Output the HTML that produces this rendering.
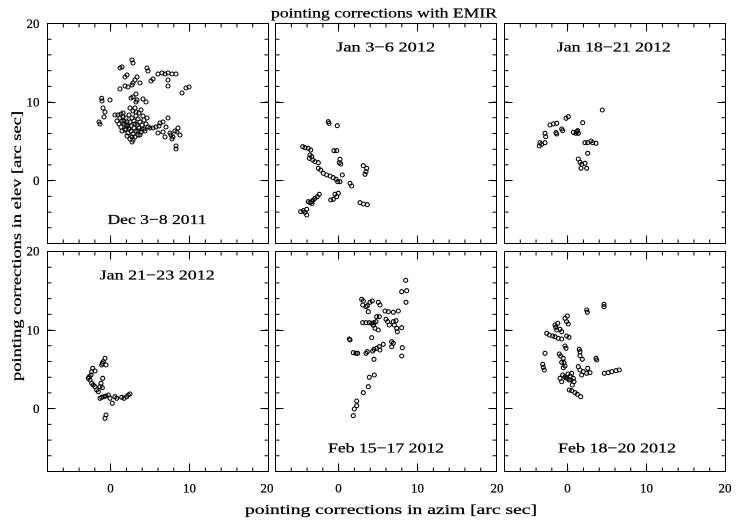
<!DOCTYPE html>
<html><head><meta charset="utf-8"><style>
html,body{margin:0;padding:0;background:#fff;}
svg{display:block;}
text{font-family:"Liberation Serif",serif;fill:#000;stroke:#000;stroke-width:0.25;}
</style></head><body>
<svg width="739" height="523" viewBox="0 0 739 523" xmlns="http://www.w3.org/2000/svg">
<defs>
<g id="frame" fill="none" stroke="#000" stroke-width="1">
<rect x="0" y="0" width="221" height="220"/>
<line x1="-0.5" y1="2" x2="221.5" y2="2" stroke-width="4" stroke-dasharray="1 14.786"/>
<line x1="-0.5" y1="218" x2="221.5" y2="218" stroke-width="4" stroke-dasharray="1 14.786"/>
<line x1="2" y1="-0.5" x2="2" y2="220.5" stroke-width="4" stroke-dasharray="1 14.714"/>
<line x1="219" y1="-0.5" x2="219" y2="220.5" stroke-width="4" stroke-dasharray="1 14.714"/>
<path d="M63 0V8M142 0V8M63 212V220M142 212V220M0 79H8M0 157H8M213 79H221M213 157H221"/>
</g>
</defs>
<rect width="739" height="523" fill="#fff"/>
<use href="#frame" x="47.5" y="23.5"/>
<use href="#frame" x="275.5" y="23.5"/>
<use href="#frame" x="504.5" y="23.5"/>
<use href="#frame" x="47.5" y="251.5"/>
<use href="#frame" x="275.5" y="251.5"/>
<use href="#frame" x="504.5" y="251.5"/>

<!-- titles -->
<text x="384" y="17.3" font-size="14" text-anchor="middle" textLength="226" lengthAdjust="spacingAndGlyphs">pointing corrections with EMIR</text>
<text x="391" y="514" font-size="14" text-anchor="middle" textLength="292" lengthAdjust="spacingAndGlyphs">pointing corrections in azim [arc sec]</text>
<text transform="translate(21,246) rotate(-90)" x="0" y="0" font-size="14" text-anchor="middle" textLength="270" lengthAdjust="spacingAndGlyphs">pointing corrections in elev [arc sec]</text>

<!-- y tick labels -->
<g font-size="13" text-anchor="end">
<text x="39.5" y="27.8">20</text>
<text x="39.5" y="106.6">10</text>
<text x="39.5" y="185">0</text>
<text x="39.5" y="255.6">20</text>
<text x="39.5" y="334.5">10</text>
<text x="39.5" y="412.8">0</text>
</g>
<!-- x tick labels -->
<g font-size="13" text-anchor="middle">
<text x="110.5" y="492.5">0</text>
<text x="189.5" y="492.5">10</text>
<text x="267" y="492.5">20</text>
<text x="338.5" y="492.5">0</text>
<text x="417.5" y="492.5">10</text>
<text x="497" y="492.5">20</text>
<text x="567.5" y="492.5">0</text>
<text x="646.5" y="492.5">10</text>
<text x="725" y="492.5">20</text>
</g>

<!-- panel labels -->
<g font-size="14" text-anchor="middle">
<text x="157" y="224" textLength="99" lengthAdjust="spacingAndGlyphs">Dec 3−8 2011</text>
<text x="385.7" y="51.7" textLength="99" lengthAdjust="spacingAndGlyphs">Jan 3−6 2012</text>
<text x="613.8" y="51.7" textLength="114" lengthAdjust="spacingAndGlyphs">Jan 18−21 2012</text>
<text x="157.2" y="279.3" textLength="115" lengthAdjust="spacingAndGlyphs">Jan 21−23 2012</text>
<text x="386" y="452.3" textLength="116" lengthAdjust="spacingAndGlyphs">Feb 15−17 2012</text>
<text x="617" y="452.3" textLength="118" lengthAdjust="spacingAndGlyphs">Feb 18−20 2012</text>
</g>

<g fill="none" stroke="#000" stroke-width="1.1">
<!-- panel 1 -->
<circle cx="100" cy="124" r="2"/><circle cx="99" cy="122" r="2"/><circle cx="101.7" cy="98.3" r="2"/><circle cx="102" cy="101" r="2"/>
<circle cx="110" cy="100" r="2"/><circle cx="103" cy="108" r="2"/><circle cx="105" cy="112" r="2"/><circle cx="104" cy="117" r="2"/>
<circle cx="120" cy="68" r="2"/><circle cx="122" cy="67" r="2"/><circle cx="125" cy="77" r="2"/><circle cx="127" cy="75" r="2"/>
<circle cx="120" cy="89" r="2"/><circle cx="125" cy="86" r="2"/><circle cx="128" cy="87" r="2"/><circle cx="132" cy="85" r="2"/>
<circle cx="133" cy="83" r="2"/><circle cx="135" cy="80" r="2"/><circle cx="137" cy="77" r="2"/><circle cx="140" cy="83" r="2"/>
<circle cx="132" cy="60" r="2"/><circle cx="133" cy="63" r="2"/><circle cx="147" cy="68" r="2"/><circle cx="148" cy="71" r="2"/>
<circle cx="151" cy="81" r="2"/><circle cx="153" cy="79" r="2"/><circle cx="158" cy="74" r="2"/><circle cx="162" cy="73" r="2"/>
<circle cx="165" cy="74" r="2"/><circle cx="168" cy="73" r="2"/><circle cx="172" cy="74" r="2"/><circle cx="176" cy="74" r="2"/>
<circle cx="168" cy="80" r="2"/><circle cx="168" cy="86" r="2"/><circle cx="182" cy="93" r="2"/><circle cx="186" cy="88" r="2"/>
<circle cx="189" cy="87" r="2"/><circle cx="131" cy="98" r="2"/><circle cx="133" cy="97" r="2"/><circle cx="136" cy="94" r="2"/>
<circle cx="136" cy="102" r="2"/><circle cx="137" cy="100" r="2"/><circle cx="143" cy="99" r="2"/><circle cx="146" cy="102" r="2"/>
<circle cx="130" cy="108" r="2"/><circle cx="135" cy="108" r="2"/><circle cx="133" cy="111" r="2"/>
<circle cx="115" cy="115" r="2"/><circle cx="118" cy="115" r="2"/><circle cx="121" cy="114" r="2"/><circle cx="123" cy="113" r="2"/>
<circle cx="120" cy="118" r="2"/><circle cx="122" cy="121" r="2"/><circle cx="119" cy="124" r="2"/><circle cx="121" cy="127" r="2"/>
<circle cx="124" cy="124" r="2"/><circle cx="126" cy="129" r="2"/><circle cx="128" cy="126" r="2"/><circle cx="130" cy="122" r="2"/>
<circle cx="132" cy="118" r="2"/><circle cx="134" cy="121" r="2"/><circle cx="136" cy="116" r="2"/><circle cx="138" cy="119" r="2"/>
<circle cx="140" cy="122" r="2"/><circle cx="137" cy="125" r="2"/><circle cx="134" cy="128" r="2"/><circle cx="131" cy="131" r="2"/>
<circle cx="128" cy="133" r="2"/><circle cx="125" cy="130" r="2"/><circle cx="133" cy="134" r="2"/><circle cx="136" cy="131" r="2"/>
<circle cx="139" cy="128" r="2"/><circle cx="142" cy="125" r="2"/><circle cx="144" cy="120" r="2"/><circle cx="146" cy="124" r="2"/>
<circle cx="148" cy="127" r="2"/><circle cx="144" cy="129" r="2"/><circle cx="141" cy="132" r="2"/><circle cx="138" cy="135" r="2"/>
<circle cx="135" cy="137" r="2"/><circle cx="132" cy="137" r="2"/><circle cx="133" cy="140" r="2"/><circle cx="140" cy="135" r="2"/>
<circle cx="145" cy="131" r="2"/><circle cx="150" cy="128" r="2"/><circle cx="153" cy="128" r="2"/><circle cx="156" cy="127" r="2"/>
<circle cx="159" cy="126" r="2"/><circle cx="147" cy="118" r="2"/><circle cx="143" cy="116" r="2"/><circle cx="139" cy="113" r="2"/>
<circle cx="141" cy="110" r="2"/><circle cx="136" cy="112" r="2"/><circle cx="129" cy="115" r="2"/><circle cx="126" cy="118" r="2"/>
<circle cx="124" cy="121" r="2"/><circle cx="117" cy="121" r="2"/><circle cx="122" cy="131" r="2"/><circle cx="127" cy="136" r="2"/>
<circle cx="130" cy="139" r="2"/><circle cx="132" cy="142" r="2"/>
<circle cx="127" cy="122" r="2"/><circle cx="131" cy="126" r="2"/><circle cx="135" cy="124" r="2"/><circle cx="129" cy="129" r="2"/>
<circle cx="123" cy="117" r="2"/><circle cx="138" cy="131" r="2"/><circle cx="142" cy="129" r="2"/><circle cx="126" cy="125" r="2"/>
<circle cx="160" cy="123" r="2"/><circle cx="163" cy="122" r="2"/><circle cx="168" cy="118" r="2"/><circle cx="166" cy="127" r="2"/>
<circle cx="158" cy="133" r="2"/><circle cx="163" cy="132" r="2"/><circle cx="165" cy="137" r="2"/><circle cx="170" cy="133" r="2"/>
<circle cx="173" cy="137" r="2"/><circle cx="177" cy="132" r="2"/><circle cx="178" cy="128" r="2"/><circle cx="180" cy="135" r="2"/>
<circle cx="175" cy="131" r="2"/><circle cx="172" cy="139" r="2"/><circle cx="176" cy="146" r="2"/><circle cx="176" cy="149" r="2"/>
<circle cx="171" cy="135" r="2"/>

<!-- panel 2 -->
<circle cx="328.3" cy="121.7" r="2"/><circle cx="329" cy="123.5" r="2"/><circle cx="337.3" cy="125.7" r="2"/>
<circle cx="302.7" cy="146.7" r="2"/><circle cx="305" cy="147.7" r="2"/><circle cx="308.3" cy="148.3" r="2"/><circle cx="310.7" cy="150" r="2"/>
<circle cx="310" cy="155" r="2"/><circle cx="311.7" cy="156.7" r="2"/><circle cx="309.3" cy="158.3" r="2"/><circle cx="312.7" cy="160" r="2"/>
<circle cx="315" cy="161.7" r="2"/><circle cx="318.3" cy="162.7" r="2"/><circle cx="334" cy="150.7" r="2"/><circle cx="336.7" cy="150.7" r="2"/>
<circle cx="340" cy="159.3" r="2"/><circle cx="339.3" cy="162.7" r="2"/><circle cx="340.7" cy="164" r="2"/>
<circle cx="363.3" cy="165.7" r="2"/><circle cx="366.7" cy="168.3" r="2"/><circle cx="366" cy="171.7" r="2"/><circle cx="365" cy="174.3" r="2"/>
<circle cx="318.3" cy="168.3" r="2"/><circle cx="320.7" cy="170" r="2"/><circle cx="323.3" cy="173.3" r="2"/><circle cx="326.7" cy="175" r="2"/>
<circle cx="330" cy="176" r="2"/><circle cx="333.3" cy="177.7" r="2"/><circle cx="336" cy="179.3" r="2"/><circle cx="337.7" cy="181.7" r="2"/>
<circle cx="340" cy="181.7" r="2"/><circle cx="342.3" cy="175" r="2"/><circle cx="350" cy="183.3" r="2"/><circle cx="351.7" cy="186" r="2"/>
<circle cx="319.3" cy="194.3" r="2"/><circle cx="317.3" cy="196.7" r="2"/><circle cx="315" cy="198.3" r="2"/><circle cx="313.3" cy="200" r="2"/>
<circle cx="311.7" cy="201.7" r="2"/><circle cx="310" cy="202.7" r="2"/><circle cx="308.3" cy="201.7" r="2"/><circle cx="312" cy="203.5" r="2"/>
<circle cx="335" cy="194.3" r="2"/><circle cx="338.3" cy="193.3" r="2"/><circle cx="336.7" cy="196.7" r="2"/><circle cx="333.3" cy="199.3" r="2"/>
<circle cx="330.7" cy="200" r="2"/><circle cx="360" cy="202.7" r="2"/><circle cx="363.3" cy="204" r="2"/><circle cx="367.3" cy="204.7" r="2"/>
<circle cx="300.7" cy="211.7" r="2"/><circle cx="303.3" cy="210.7" r="2"/><circle cx="306.7" cy="209.3" r="2"/><circle cx="306.7" cy="215" r="2"/>
<circle cx="305" cy="212.3" r="2"/>

<!-- panel 3 -->
<circle cx="602.3" cy="110" r="2"/><circle cx="568.3" cy="116.7" r="2"/><circle cx="566" cy="118.3" r="2"/><circle cx="582.7" cy="122.7" r="2"/>
<circle cx="550" cy="125" r="2"/><circle cx="553.3" cy="124" r="2"/><circle cx="556.7" cy="123.3" r="2"/><circle cx="561.7" cy="129" r="2"/>
<circle cx="562.7" cy="130.7" r="2"/><circle cx="556" cy="132.7" r="2"/><circle cx="556.7" cy="134" r="2"/><circle cx="545" cy="133.3" r="2"/>
<circle cx="545.7" cy="136.7" r="2"/><circle cx="540" cy="142.7" r="2"/><circle cx="539.3" cy="146" r="2"/><circle cx="545" cy="142.7" r="2"/>
<circle cx="541.7" cy="144.3" r="2"/><circle cx="573.3" cy="132.3" r="2"/><circle cx="576.7" cy="131.7" r="2"/><circle cx="577.7" cy="130.7" r="2"/>
<circle cx="576" cy="133.3" r="2"/><circle cx="578.3" cy="133.3" r="2"/><circle cx="585" cy="142.7" r="2"/><circle cx="587.7" cy="142.7" r="2"/>
<circle cx="591" cy="141" r="2"/><circle cx="592.7" cy="142.7" r="2"/><circle cx="596" cy="143.3" r="2"/><circle cx="587.7" cy="153.3" r="2"/>
<circle cx="578.3" cy="159" r="2"/><circle cx="580" cy="162.3" r="2"/><circle cx="581.7" cy="164.3" r="2"/><circle cx="581" cy="168.3" r="2"/>
<circle cx="585" cy="163.3" r="2"/><circle cx="586.7" cy="168.3" r="2"/>

<!-- panel 4 -->
<circle cx="88.3" cy="378.3" r="2"/><circle cx="89.3" cy="376.7" r="2"/><circle cx="90" cy="380" r="2"/><circle cx="91.7" cy="371.7" r="2"/>
<circle cx="92.7" cy="368.3" r="2"/><circle cx="95" cy="371" r="2"/><circle cx="91" cy="375" r="2"/><circle cx="91.7" cy="383.3" r="2"/>
<circle cx="93.3" cy="385" r="2"/><circle cx="95" cy="386.7" r="2"/><circle cx="96.7" cy="390" r="2"/><circle cx="98.3" cy="391.7" r="2"/>
<circle cx="100" cy="386.7" r="2"/><circle cx="101" cy="383.3" r="2"/><circle cx="102.3" cy="387.7" r="2"/><circle cx="102.7" cy="378.3" r="2"/>
<circle cx="101.7" cy="365" r="2"/><circle cx="103.3" cy="361.7" r="2"/><circle cx="105" cy="358.3" r="2"/><circle cx="106" cy="365" r="2"/>
<circle cx="102.3" cy="363.3" r="2"/><circle cx="100" cy="398.3" r="2"/><circle cx="101.7" cy="397.3" r="2"/><circle cx="104" cy="396.7" r="2"/>
<circle cx="106" cy="396" r="2"/><circle cx="108.3" cy="395" r="2"/><circle cx="110" cy="398.3" r="2"/><circle cx="112.3" cy="403.3" r="2"/>
<circle cx="115" cy="396.7" r="2"/><circle cx="116.7" cy="398.3" r="2"/><circle cx="121.7" cy="397.3" r="2"/><circle cx="124" cy="398.3" r="2"/>
<circle cx="126.7" cy="396.7" r="2"/><circle cx="128.3" cy="395" r="2"/><circle cx="130" cy="394" r="2"/><circle cx="106" cy="415" r="2"/>
<circle cx="105" cy="418.3" r="2"/>

<!-- panel 5 -->
<circle cx="405.7" cy="280.3" r="2"/><circle cx="401.7" cy="291.7" r="2"/><circle cx="406.7" cy="290.7" r="2"/><circle cx="406" cy="302.3" r="2"/>
<circle cx="361.7" cy="299.3" r="2"/><circle cx="363.3" cy="301" r="2"/><circle cx="362.7" cy="305" r="2"/><circle cx="366" cy="306.7" r="2"/>
<circle cx="367.3" cy="305.7" r="2"/><circle cx="370" cy="302.3" r="2"/><circle cx="372.3" cy="301" r="2"/><circle cx="378.3" cy="302.3" r="2"/>
<circle cx="380" cy="305" r="2"/><circle cx="368.3" cy="311.7" r="2"/><circle cx="385" cy="311" r="2"/><circle cx="388.3" cy="311.7" r="2"/>
<circle cx="393.3" cy="312.3" r="2"/><circle cx="398.3" cy="311" r="2"/><circle cx="376.7" cy="316.7" r="2"/><circle cx="379.3" cy="316.7" r="2"/>
<circle cx="386" cy="319.3" r="2"/><circle cx="387.7" cy="321.7" r="2"/><circle cx="389.3" cy="325" r="2"/><circle cx="362.7" cy="322.7" r="2"/>
<circle cx="366" cy="322.7" r="2"/><circle cx="369.3" cy="322.7" r="2"/><circle cx="371.7" cy="323.3" r="2"/><circle cx="374" cy="322.7" r="2"/>
<circle cx="376" cy="321.7" r="2"/><circle cx="373.3" cy="325.3" r="2"/><circle cx="375" cy="328.3" r="2"/><circle cx="378.3" cy="330" r="2"/>
<circle cx="393.3" cy="321.7" r="2"/><circle cx="396" cy="320.7" r="2"/><circle cx="394.3" cy="325" r="2"/><circle cx="396.7" cy="328.3" r="2"/>
<circle cx="397.3" cy="331.7" r="2"/><circle cx="401.7" cy="327.7" r="2"/><circle cx="350" cy="340" r="2"/><circle cx="349.3" cy="339" r="2"/>
<circle cx="371.7" cy="337.7" r="2"/><circle cx="353.3" cy="352.7" r="2"/><circle cx="356" cy="353.3" r="2"/><circle cx="357.7" cy="353.3" r="2"/>
<circle cx="366" cy="353.3" r="2"/><circle cx="367.3" cy="351.7" r="2"/><circle cx="372.7" cy="351" r="2"/><circle cx="374" cy="349.3" r="2"/>
<circle cx="376.7" cy="348.3" r="2"/><circle cx="380" cy="350" r="2"/><circle cx="379.3" cy="346.7" r="2"/><circle cx="383.3" cy="344.3" r="2"/>
<circle cx="391.7" cy="341.7" r="2"/><circle cx="393.3" cy="343.3" r="2"/><circle cx="391.7" cy="346.7" r="2"/><circle cx="402.3" cy="347.7" r="2"/>
<circle cx="401.7" cy="356" r="2"/><circle cx="374" cy="359.3" r="2"/><circle cx="374.3" cy="375" r="2"/><circle cx="369.3" cy="377.3" r="2"/>
<circle cx="368.3" cy="386.7" r="2"/><circle cx="363.3" cy="392.7" r="2"/><circle cx="356.7" cy="401" r="2"/><circle cx="356.7" cy="405.7" r="2"/>
<circle cx="354.3" cy="409" r="2"/><circle cx="353.3" cy="415.7" r="2"/>

<!-- panel 6 -->
<circle cx="604" cy="304.3" r="2"/><circle cx="604" cy="306.7" r="2"/><circle cx="586.7" cy="310" r="2"/><circle cx="587.3" cy="312.3" r="2"/>
<circle cx="567.3" cy="316" r="2"/><circle cx="565" cy="318.3" r="2"/><circle cx="566.7" cy="321.7" r="2"/><circle cx="568.3" cy="324" r="2"/>
<circle cx="557.7" cy="323.3" r="2"/><circle cx="555.7" cy="327.3" r="2"/><circle cx="556.7" cy="330" r="2"/><circle cx="560" cy="329.3" r="2"/>
<circle cx="561.7" cy="331.7" r="2"/><circle cx="546.7" cy="333.3" r="2"/><circle cx="549.3" cy="335" r="2"/><circle cx="552.7" cy="336" r="2"/>
<circle cx="555" cy="336.7" r="2"/><circle cx="558.3" cy="338.3" r="2"/><circle cx="561.7" cy="339" r="2"/><circle cx="566.7" cy="336" r="2"/>
<circle cx="569" cy="337.3" r="2"/><circle cx="565" cy="346" r="2"/><circle cx="566" cy="348.3" r="2"/><circle cx="579.3" cy="349.3" r="2"/>
<circle cx="580" cy="351.7" r="2"/><circle cx="545" cy="353.3" r="2"/><circle cx="559.3" cy="354" r="2"/><circle cx="560.7" cy="356" r="2"/>
<circle cx="580" cy="355.7" r="2"/><circle cx="582.3" cy="359.3" r="2"/><circle cx="596" cy="358.3" r="2"/><circle cx="596.7" cy="360" r="2"/>
<circle cx="542.7" cy="364.3" r="2"/><circle cx="543.3" cy="367.3" r="2"/><circle cx="544.3" cy="370" r="2"/><circle cx="563.3" cy="358.3" r="2"/>
<circle cx="564" cy="362.7" r="2"/><circle cx="561.7" cy="362.3" r="2"/><circle cx="563.3" cy="367.7" r="2"/><circle cx="565" cy="366" r="2"/>
<circle cx="578.3" cy="366.7" r="2"/><circle cx="580" cy="370" r="2"/><circle cx="583.3" cy="371.7" r="2"/><circle cx="581.7" cy="375" r="2"/>
<circle cx="586.7" cy="373.3" r="2"/><circle cx="587.7" cy="368.3" r="2"/><circle cx="590" cy="372.7" r="2"/><circle cx="604.3" cy="373.3" r="2"/>
<circle cx="608.3" cy="372.7" r="2"/><circle cx="611.7" cy="371.7" r="2"/><circle cx="616" cy="370.7" r="2"/><circle cx="619.3" cy="370" r="2"/>
<circle cx="562.7" cy="375" r="2"/><circle cx="560" cy="378.3" r="2"/><circle cx="561.7" cy="381.7" r="2"/><circle cx="565" cy="376.7" r="2"/>
<circle cx="567.3" cy="378.3" r="2"/><circle cx="570" cy="376" r="2"/><circle cx="571.7" cy="373.3" r="2"/><circle cx="573.3" cy="378.3" r="2"/>
<circle cx="574" cy="381.7" r="2"/><circle cx="572.3" cy="385" r="2"/><circle cx="569" cy="380" r="2"/><circle cx="569.3" cy="390" r="2"/>
<circle cx="571.7" cy="390.7" r="2"/><circle cx="575" cy="392.7" r="2"/><circle cx="577.3" cy="394.3" r="2"/><circle cx="580.7" cy="396.7" r="2"/>
<circle cx="555" cy="325" r="2"/><circle cx="566" cy="378" r="2"/><circle cx="571" cy="380" r="2"/><circle cx="568" cy="374" r="2"/>
</g>
</svg>
</body></html>
